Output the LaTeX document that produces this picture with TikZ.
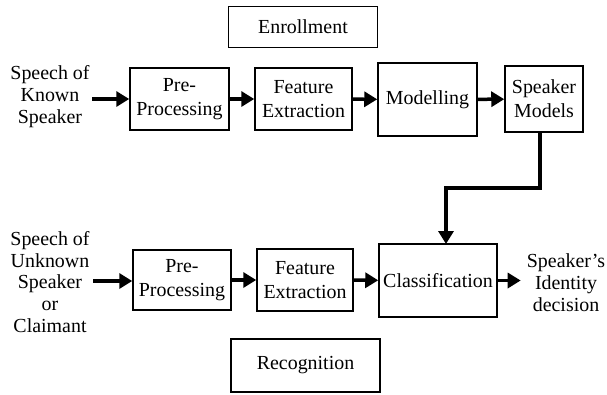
\documentclass[tikz,border=0pt]{standalone}
\usepackage{fontspec}
\setmainfont{Liberation Serif}
\usetikzlibrary{arrows.meta}
\begin{document}
\begin{tikzpicture}[x=1bp,y=-1bp,
  box/.style={draw, line width=1.5bp, align=center, inner sep=0pt,
    font=\fontsize{20}{24}\selectfont},
  lbl/.style={align=center, inner sep=0pt, font=\fontsize{20}{22}\selectfont},
  arr/.style={line width=3.5bp, -{Triangle[length=13bp,width=15bp]}},
  link/.style={line width=3.5bp}]
\useasboundingbox (0,0) rectangle (607,394);
\node[box, minimum width=149bp, minimum height=41bp] (enr) at (303,27) {Enrollment};
\node[box, minimum width=149bp, minimum height=53bp] (rec) at (305.5,365.5) {Recognition};
\node[box, minimum width=99bp, minimum height=62bp] (pp1) at (179.5,99) {Pre-\\Processing};
\node[box, minimum width=97bp, minimum height=62bp] (fe1) at (303.5,99) {Feature\\Extraction};
\node[box, minimum width=99bp, minimum height=73bp] (mod) at (427.5,99.5) {Modelling};
\node[box, minimum width=78bp, minimum height=66bp] (sm) at (544,99) {Speaker\\Models};
\node[box, minimum width=98bp, minimum height=60bp] (pp2) at (182,280) {Pre-\\Processing};
\node[box, minimum width=96bp, minimum height=62bp] (fe2) at (305,280) {Feature\\Extraction};
\node[box, minimum width=118bp, minimum height=73bp] (cls) at (438,280.5) {Classification};
\node[lbl] (in1) at (50,97) {Speech of\\Known\\Speaker};
\node[lbl] (in2) at (50,282) {Speech of\\Unknown\\Speaker\\or\\Claimant};
\node[lbl] (out) at (566,283) {Speaker’s\\Identity\\decision};
\coordinate (s1) at (92,99);
\coordinate (s2) at (93,281);
\coordinate (bend) at (540,188);
\coordinate (clsin) at (446,244);
\draw[arr] (s1) -- (pp1.west);
\draw[arr] (pp1) -- (fe1);
\draw[arr] (fe1) -- (mod);
\draw[arr] (mod) -- (sm);
\draw[arr] (s2) -- (pp2.west |- s2);
\draw[arr] (pp2) -- (fe2);
\draw[arr] (fe2) -- (cls);
\draw[arr] (cls.east) -- ([xshift=-6bp]out.west |- cls.east);
\draw[arr] (sm.south -| bend) -- (bend) -| (clsin);
\end{tikzpicture}
\end{document}
